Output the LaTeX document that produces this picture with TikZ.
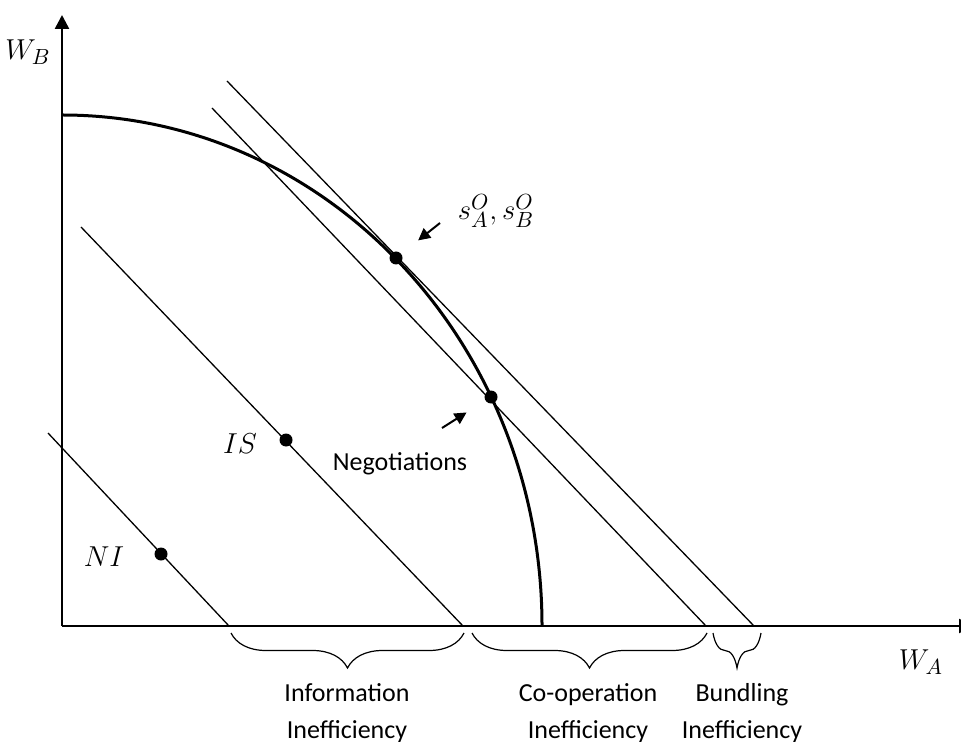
\documentclass[tikz,border=0pt]{standalone}
\usepackage{fontspec}
\setmainfont{Carlito}
\usetikzlibrary{arrows.meta,decorations.pathreplacing}

\begin{document}
\begin{tikzpicture}[x=0.5pt,y=-0.5pt,
axis/.style={line width=1.25pt, -{Triangle[length=7pt,width=7pt]}},
frontier/.style={line width=1.5pt},
budget/.style={line width=0.65pt},
dot/.style={circle, fill, inner sep=0pt, minimum size=6.5pt},
ptr/.style={line width=1pt, -{Triangle[length=6pt,width=6pt]}},
brc/.style={decorate, decoration={brace, mirror, amplitude=17.5pt}, line width=0.6pt},
lbl/.style={font=\fontsize{13}{18.5}\selectfont, align=center},
mlbl/.style={font=\fontsize{15}{18}\selectfont, inner sep=1pt}]

\useasboundingbox (0,0) rectangle (961,742);

% axes
\coordinate (O) at (62,626);
\coordinate (yEnd) at (62,15);
\coordinate (xEnd) at (973,626);
\draw[axis] (O)--(yEnd);
\draw[axis] (O)--(xEnd);
\node[mlbl] (WB) at (28,52) {$W_B$};
\node[mlbl] (WA) at (921,662) {$W_A$};

% frontier
\draw[frontier] (62,115) arc[start angle=-90, end angle=0, x radius=480, y radius=511];

% lines
\coordinate (l1a) at (227,81);  \coordinate (l1b) at (754,626);
\coordinate (l2a) at (212,108); \coordinate (l2b) at (706,626);
\coordinate (l3a) at (81,227);  \coordinate (l3b) at (463,626);
\coordinate (l4a) at (48,433);  \coordinate (l4b) at (229,626);
\foreach \l in {1,...,4}
    \draw[budget] (l\l a)--(l\l b);

% points
\node[dot] (SO) at (396,258) {};
\node[dot] (Neg) at (491,397) {};
\node[dot] (IS) at (286,440) {};
\node[dot] (NI) at (161,554) {};

\node[mlbl] at (240,444) {$IS$};
\node[mlbl] at (104,557) {$NI$};
\node[mlbl] (SOl) at (496,211) {$s^O_A,s^O_B$};
\node[lbl] (Negl) at (400,464) {Negotiations};

\coordinate (SOt) at (440,223);
\coordinate (Negt) at (442,428);
\draw[ptr, shorten >=10.7pt] (SOt)--(SO);
\draw[ptr, shorten >=11pt] (Negt)--(Neg);

% braces
\draw[brc] (231,633)--(464,633);
\draw[brc] (472,633)--(707,633);
\draw[brc] (713,633)--(761,633);
\node[lbl] (Info) at (347,713) {Information\\Inefficiency};
\node[lbl] (Coop) at (588,713) {Co-operation\\Inefficiency};
\node[lbl] (Bund) at (742,713) {Bundling\\Inefficiency};

\end{tikzpicture}
\end{document}
